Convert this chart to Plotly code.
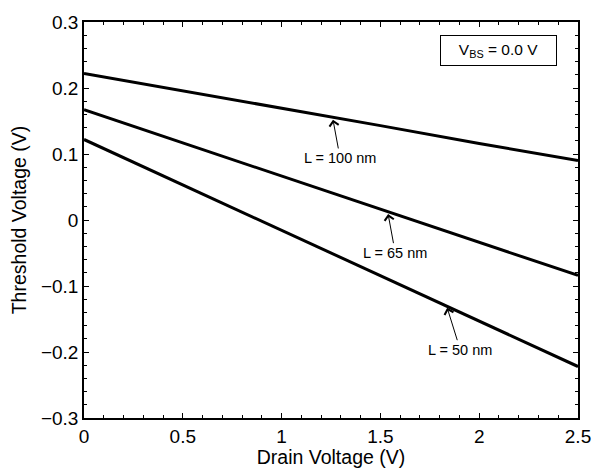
import plotly.graph_objects as go

vd = [0, 0.5, 1.0, 1.5, 2.0, 2.5]
vt_100 = [0.222, 0.196, 0.169, 0.143, 0.116, 0.090]
vt_65 = [0.167, 0.117, 0.066, 0.016, -0.034, -0.084]
vt_50 = [0.122, 0.053, -0.016, -0.084, -0.153, -0.222]

labels = ["L = 100 nm", "L = 65 nm", "L = 50 nm"]
tips_x = [1.26, 1.539, 1.838]
tips_y = [0.152, 0.009, -0.133]
text_x = [1.296, 1.575, 1.904]
text_y = [0.094, -0.0495, -0.1965]

FONT = "Liberation Sans, Arial, sans-serif"

fig = go.Figure()
for ys in [vt_100, vt_65, vt_50]:
    fig.add_trace(go.Scatter(x=vd, y=ys, mode="lines",
                             line=dict(color="black", width=3), showlegend=False))

for lab, tx, ty, ax, ay in zip(labels, tips_x, tips_y, text_x, text_y):
    fig.add_annotation(x=tx, y=ty, ax=ax, ay=ay, xref="x", yref="y", axref="x", ayref="y",
                       text=lab, showarrow=True, arrowhead=4, arrowsize=1.8, arrowwidth=1,
                       arrowcolor="black", font=dict(size=14.5, color="black", family=FONT))

fig.add_annotation(x=0.84, y=0.928, xref="paper", yref="paper", showarrow=False,
                   xanchor="center", yanchor="middle",
                   text="V<sub>BS</sub> = 0.0 V", font=dict(size=15.5, color="black", family=FONT),
                   bordercolor="black", borderwidth=1, borderpad=0, width=115, height=29,
                   bgcolor="white")

axis_common = dict(showline=True, linecolor="black", linewidth=1.6, mirror="allticks",
                   ticks="inside", ticklen=5, tickcolor="black", tickwidth=1, showgrid=False,
                   zeroline=False, automargin=False,
                   tickfont=dict(size=19, color="black", family=FONT))

fig.update_xaxes(range=[0, 2.5], tickvals=[0, 0.5, 1, 1.5, 2, 2.5],
                 ticktext=["0", "0.5", "1", "1.5", "2", "2.5"],
                 minor=dict(dtick=0.1, ticks="inside", ticklen=3, tickcolor="black"),
                 title=dict(text="Drain Voltage (V)", font=dict(size=19.5, color="black", family=FONT), standoff=0),
                 **axis_common)
fig.update_yaxes(range=[-0.3, 0.3], tickvals=[-0.3, -0.2, -0.1, 0, 0.1, 0.2, 0.3],
                 ticktext=["\u22120.3", "\u22120.2", "\u22120.1", "0", "0.1", "0.2", "0.3"],
                 minor=dict(dtick=0.02, ticks="inside", ticklen=3, tickcolor="black"),
                 title=dict(text="Threshold Voltage (V)", font=dict(size=19.5, color="black", family=FONT), standoff=9),
                 **axis_common)

fig.update_layout(width=593, height=468, margin=dict(l=84, r=15, t=22, b=50),
                  paper_bgcolor="white", plot_bgcolor="white")

fig.write_html("out.html", config={"displayModeBar": False},
               post_script="document.body.style.margin='0';")
